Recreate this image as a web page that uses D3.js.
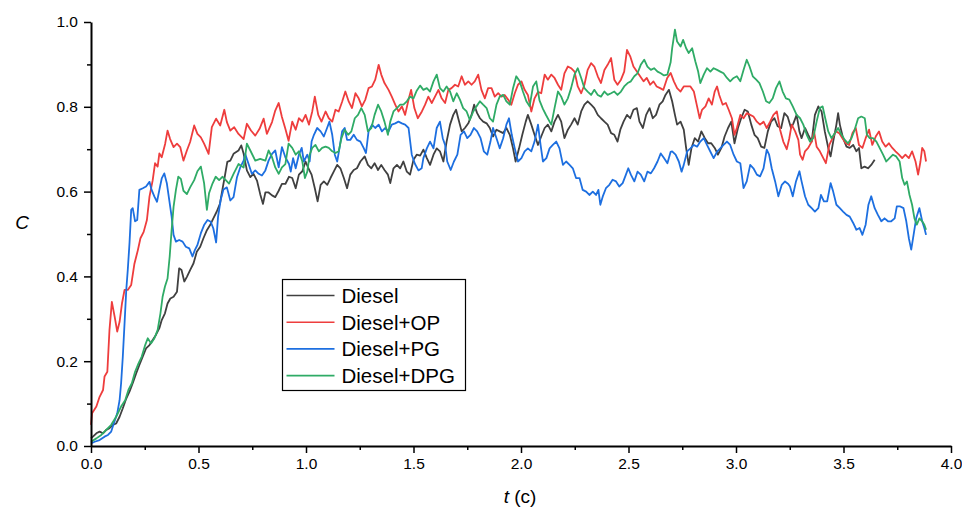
<!DOCTYPE html>
<html>
<head>
<meta charset="utf-8">
<script src="https://cdn.jsdelivr.net/npm/d3@7/dist/d3.min.js"></script>
<style>
  html, body { margin: 0; padding: 0; background: #fff; }
  svg { display: block; }
  .tick text { font-family: "Liberation Sans", Arial, sans-serif; }
</style>
</head>
<body>
<svg id="chart" width="962" height="511"></svg>
<script>
// Tick values and labels
const xTicks = [0, 0.5, 1.0, 1.5, 2.0, 2.5, 3.0, 3.5, 4.0];
const xMinorTicks = [0.25, 0.75, 1.25, 1.75, 2.25, 2.75, 3.25, 3.75];
const yTicks = [0, 0.2, 0.4, 0.6, 0.8, 1.0];
const yMinorTicks = [0.1, 0.3, 0.5, 0.7, 0.9];

const seriesNames = ["Diesel", "Diesel+OP", "Diesel+PG", "Diesel+DPG"];
const seriesColors = ["#404040", "#ee3d3d", "#1d6fe0", "#2fab66"];

// Each series: [t, C] pairs
const diesel = [[0,0.018],[0.009,0.022],[0.025,0.03],[0.04,0.034],[0.056,0.03],[0.071,0.038],[0.086,0.042],[0.102,0.05],[0.117,0.053],[0.133,0.069],[0.148,0.089],[0.164,0.112],[0.179,0.128],[0.194,0.148],[0.21,0.171],[0.225,0.191],[0.241,0.211],[0.256,0.23],[0.272,0.238],[0.287,0.25],[0.302,0.262],[0.318,0.278],[0.329,0.297],[0.344,0.313],[0.356,0.336],[0.369,0.348],[0.384,0.352],[0.4,0.364],[0.41,0.419],[0.421,0.415],[0.434,0.388],[0.446,0.399],[0.461,0.415],[0.477,0.431],[0.492,0.458],[0.508,0.47],[0.523,0.49],[0.539,0.509],[0.554,0.521],[0.569,0.537],[0.585,0.553],[0.6,0.572],[0.611,0.604],[0.622,0.635],[0.634,0.67],[0.648,0.673],[0.663,0.689],[0.686,0.697],[0.699,0.709],[0.71,0.689],[0.725,0.65],[0.741,0.634],[0.756,0.642],[0.772,0.626],[0.787,0.594],[0.8,0.571],[0.811,0.598],[0.826,0.598],[0.842,0.591],[0.857,0.587],[0.873,0.602],[0.888,0.618],[0.904,0.618],[0.921,0.635],[0.936,0.632],[0.952,0.608],[0.967,0.64],[0.983,0.648],[0.998,0.671],[1.011,0.655],[1.026,0.64],[1.041,0.608],[1.054,0.577],[1.068,0.616],[1.083,0.624],[1.099,0.616],[1.114,0.632],[1.129,0.647],[1.145,0.663],[1.16,0.655],[1.176,0.632],[1.191,0.608],[1.206,0.64],[1.222,0.651],[1.237,0.655],[1.253,0.671],[1.273,0.683],[1.288,0.663],[1.304,0.655],[1.319,0.667],[1.335,0.651],[1.35,0.663],[1.365,0.651],[1.381,0.64],[1.392,0.62],[1.407,0.655],[1.423,0.663],[1.438,0.655],[1.453,0.671],[1.469,0.647],[1.484,0.64],[1.5,0.675],[1.515,0.687],[1.531,0.685],[1.546,0.699],[1.562,0.679],[1.577,0.663],[1.593,0.687],[1.608,0.702],[1.623,0.695],[1.639,0.671],[1.654,0.718],[1.67,0.758],[1.685,0.781],[1.698,0.793],[1.708,0.773],[1.724,0.742],[1.739,0.75],[1.755,0.761],[1.77,0.781],[1.782,0.805],[1.796,0.785],[1.809,0.773],[1.824,0.765],[1.84,0.761],[1.855,0.75],[1.87,0.73],[1.886,0.746],[1.901,0.742],[1.917,0.738],[1.932,0.75],[1.948,0.734],[1.963,0.702],[1.975,0.671],[1.991,0.702],[2.006,0.734],[2.022,0.765],[2.032,0.781],[2.048,0.758],[2.063,0.734],[2.079,0.71],[2.094,0.73],[2.11,0.75],[2.125,0.758],[2.141,0.742],[2.156,0.765],[2.172,0.781],[2.187,0.765],[2.202,0.726],[2.218,0.746],[2.233,0.758],[2.249,0.773],[2.264,0.758],[2.28,0.789],[2.295,0.805],[2.31,0.813],[2.326,0.805],[2.341,0.797],[2.357,0.781],[2.372,0.773],[2.388,0.765],[2.403,0.758],[2.419,0.738],[2.434,0.734],[2.449,0.718],[2.462,0.746],[2.477,0.765],[2.493,0.781],[2.508,0.773],[2.523,0.793],[2.539,0.797],[2.551,0.765],[2.567,0.75],[2.582,0.781],[2.598,0.797],[2.613,0.773],[2.628,0.781],[2.644,0.805],[2.659,0.813],[2.672,0.828],[2.688,0.84],[2.703,0.813],[2.716,0.781],[2.726,0.758],[2.742,0.765],[2.757,0.746],[2.768,0.703],[2.78,0.663],[2.793,0.703],[2.808,0.726],[2.824,0.718],[2.839,0.742],[2.855,0.726],[2.87,0.714],[2.885,0.714],[2.901,0.703],[2.916,0.687],[2.932,0.703],[2.947,0.73],[2.963,0.75],[2.978,0.765],[2.993,0.714],[3.009,0.75],[3.024,0.773],[3.04,0.793],[3.055,0.789],[3.071,0.758],[3.086,0.734],[3.101,0.726],[3.117,0.706],[3.132,0.703],[3.148,0.742],[3.163,0.765],[3.179,0.773],[3.194,0.754],[3.21,0.75],[3.225,0.785],[3.24,0.777],[3.256,0.75],[3.267,0.761],[3.282,0.781],[3.295,0.742],[3.305,0.726],[3.321,0.75],[3.336,0.734],[3.352,0.718],[3.367,0.781],[3.383,0.801],[3.398,0.789],[3.413,0.742],[3.429,0.703],[3.44,0.683],[3.452,0.718],[3.467,0.758],[3.475,0.785],[3.483,0.758],[3.498,0.726],[3.514,0.706],[3.529,0.703],[3.545,0.71],[3.56,0.695],[3.572,0.703],[3.583,0.655],[3.598,0.659],[3.614,0.655],[3.629,0.663],[3.645,0.675]];

const dieselOP = [[0,0.05],[0.005,0.077],[0.025,0.093],[0.04,0.116],[0.056,0.132],[0.063,0.164],[0.076,0.175],[0.086,0.274],[0.097,0.34],[0.11,0.305],[0.122,0.27],[0.133,0.293],[0.144,0.336],[0.156,0.368],[0.171,0.368],[0.187,0.38],[0.202,0.43],[0.218,0.462],[0.23,0.49],[0.245,0.505],[0.26,0.533],[0.272,0.588],[0.287,0.627],[0.298,0.667],[0.31,0.659],[0.318,0.69],[0.329,0.681],[0.345,0.713],[0.356,0.744],[0.368,0.724],[0.384,0.705],[0.4,0.713],[0.415,0.705],[0.43,0.673],[0.446,0.697],[0.461,0.717],[0.48,0.756],[0.495,0.736],[0.511,0.728],[0.526,0.713],[0.547,0.689],[0.562,0.752],[0.582,0.772],[0.601,0.756],[0.62,0.793],[0.632,0.764],[0.648,0.744],[0.666,0.752],[0.686,0.736],[0.71,0.724],[0.725,0.76],[0.744,0.744],[0.764,0.732],[0.784,0.748],[0.803,0.772],[0.818,0.736],[0.842,0.764],[0.857,0.791],[0.873,0.809],[0.888,0.776],[0.904,0.748],[0.919,0.72],[0.936,0.765],[0.952,0.746],[0.967,0.773],[0.983,0.765],[0.998,0.781],[1.014,0.758],[1.029,0.789],[1.041,0.824],[1.057,0.781],[1.072,0.765],[1.091,0.789],[1.106,0.773],[1.122,0.765],[1.137,0.793],[1.152,0.789],[1.168,0.812],[1.183,0.836],[1.199,0.812],[1.214,0.797],[1.23,0.832],[1.245,0.82],[1.26,0.801],[1.276,0.817],[1.291,0.844],[1.307,0.848],[1.322,0.864],[1.338,0.899],[1.35,0.876],[1.365,0.856],[1.384,0.84],[1.399,0.824],[1.415,0.805],[1.43,0.789],[1.446,0.801],[1.461,0.781],[1.477,0.817],[1.489,0.84],[1.504,0.797],[1.52,0.773],[1.539,0.789],[1.554,0.805],[1.569,0.824],[1.585,0.809],[1.6,0.824],[1.616,0.84],[1.631,0.82],[1.647,0.809],[1.662,0.84],[1.677,0.844],[1.693,0.852],[1.708,0.848],[1.724,0.872],[1.739,0.852],[1.755,0.86],[1.77,0.852],[1.785,0.86],[1.801,0.876],[1.816,0.84],[1.832,0.82],[1.847,0.844],[1.863,0.844],[1.878,0.824],[1.894,0.832],[1.909,0.824],[1.924,0.828],[1.94,0.817],[1.955,0.805],[1.971,0.832],[1.986,0.852],[2.002,0.86],[2.017,0.84],[2.032,0.828],[2.048,0.789],[2.063,0.82],[2.079,0.835],[2.094,0.832],[2.11,0.876],[2.125,0.864],[2.141,0.876],[2.156,0.868],[2.172,0.852],[2.187,0.84],[2.202,0.879],[2.218,0.895],[2.233,0.891],[2.249,0.883],[2.264,0.848],[2.28,0.832],[2.295,0.852],[2.31,0.887],[2.326,0.903],[2.341,0.895],[2.357,0.872],[2.372,0.856],[2.388,0.887],[2.403,0.899],[2.419,0.915],[2.434,0.864],[2.449,0.852],[2.465,0.864],[2.48,0.883],[2.493,0.934],[2.508,0.919],[2.523,0.895],[2.539,0.883],[2.554,0.872],[2.57,0.86],[2.585,0.868],[2.601,0.852],[2.616,0.86],[2.631,0.848],[2.647,0.844],[2.662,0.84],[2.68,0.868],[2.696,0.88],[2.711,0.86],[2.726,0.844],[2.742,0.836],[2.757,0.848],[2.773,0.848],[2.788,0.848],[2.804,0.836],[2.819,0.801],[2.831,0.773],[2.842,0.793],[2.858,0.801],[2.873,0.82],[2.888,0.805],[2.901,0.836],[2.912,0.848],[2.922,0.828],[2.938,0.805],[2.953,0.809],[2.966,0.793],[2.981,0.773],[2.993,0.734],[3.004,0.75],[3.02,0.781],[3.035,0.773],[3.05,0.785],[3.066,0.781],[3.081,0.777],[3.097,0.765],[3.112,0.758],[3.128,0.765],[3.143,0.75],[3.159,0.765],[3.174,0.781],[3.19,0.789],[3.205,0.746],[3.22,0.718],[3.236,0.7],[3.248,0.726],[3.259,0.758],[3.275,0.742],[3.29,0.722],[3.298,0.687],[3.31,0.675],[3.321,0.695],[3.336,0.703],[3.352,0.718],[3.363,0.742],[3.375,0.706],[3.39,0.695],[3.406,0.679],[3.418,0.667],[3.434,0.71],[3.449,0.726],[3.464,0.742],[3.48,0.738],[3.495,0.726],[3.511,0.714],[3.526,0.71],[3.542,0.738],[3.557,0.75],[3.572,0.71],[3.588,0.703],[3.603,0.726],[3.619,0.746],[3.634,0.71],[3.65,0.73],[3.665,0.742],[3.68,0.718],[3.696,0.706],[3.711,0.714],[3.727,0.703],[3.742,0.695],[3.758,0.687],[3.773,0.679],[3.788,0.687],[3.804,0.679],[3.819,0.695],[3.835,0.671],[3.847,0.64],[3.858,0.671],[3.866,0.703],[3.876,0.695],[3.884,0.671]];

const dieselPG = [[0,0.006],[0.017,0.01],[0.04,0.014],[0.063,0.022],[0.079,0.026],[0.094,0.034],[0.106,0.053],[0.122,0.077],[0.133,0.108],[0.14,0.148],[0.148,0.211],[0.156,0.289],[0.164,0.368],[0.171,0.415],[0.179,0.478],[0.187,0.557],[0.194,0.561],[0.205,0.53],[0.215,0.533],[0.225,0.604],[0.241,0.608],[0.256,0.612],[0.272,0.623],[0.282,0.604],[0.295,0.588],[0.307,0.576],[0.318,0.604],[0.329,0.631],[0.341,0.643],[0.353,0.619],[0.364,0.58],[0.375,0.541],[0.384,0.498],[0.395,0.482],[0.41,0.486],[0.426,0.482],[0.441,0.47],[0.457,0.466],[0.472,0.447],[0.483,0.462],[0.495,0.474],[0.511,0.502],[0.526,0.521],[0.542,0.533],[0.557,0.529],[0.569,0.513],[0.582,0.48],[0.591,0.541],[0.603,0.58],[0.616,0.605],[0.632,0.61],[0.648,0.579],[0.663,0.587],[0.679,0.634],[0.694,0.657],[0.71,0.673],[0.717,0.689],[0.733,0.665],[0.748,0.642],[0.764,0.65],[0.78,0.642],[0.795,0.638],[0.811,0.65],[0.826,0.673],[0.842,0.689],[0.857,0.697],[0.873,0.657],[0.888,0.705],[0.904,0.681],[0.921,0.665],[0.929,0.647],[0.94,0.679],[0.952,0.655],[0.967,0.687],[0.98,0.703],[0.99,0.671],[1.006,0.687],[1.017,0.671],[1.026,0.718],[1.037,0.734],[1.052,0.75],[1.068,0.742],[1.083,0.73],[1.098,0.75],[1.109,0.765],[1.122,0.734],[1.134,0.687],[1.145,0.671],[1.156,0.703],[1.168,0.742],[1.18,0.75],[1.191,0.722],[1.206,0.722],[1.222,0.734],[1.237,0.722],[1.253,0.718],[1.268,0.703],[1.279,0.691],[1.291,0.742],[1.307,0.758],[1.322,0.75],[1.338,0.758],[1.353,0.742],[1.368,0.75],[1.384,0.742],[1.399,0.758],[1.415,0.761],[1.43,0.765],[1.446,0.761],[1.461,0.758],[1.477,0.75],[1.492,0.687],[1.507,0.665],[1.523,0.65],[1.538,0.655],[1.546,0.679],[1.562,0.702],[1.577,0.718],[1.593,0.702],[1.608,0.75],[1.623,0.765],[1.636,0.726],[1.647,0.71],[1.657,0.671],[1.673,0.651],[1.688,0.671],[1.704,0.687],[1.719,0.734],[1.735,0.742],[1.75,0.726],[1.765,0.734],[1.781,0.75],[1.796,0.742],[1.812,0.726],[1.827,0.695],[1.843,0.687],[1.858,0.718],[1.87,0.75],[1.886,0.726],[1.901,0.702],[1.917,0.726],[1.932,0.758],[1.944,0.773],[1.957,0.734],[1.971,0.702],[1.986,0.671],[2.002,0.679],[2.017,0.695],[2.032,0.702],[2.048,0.695],[2.063,0.718],[2.079,0.758],[2.091,0.71],[2.102,0.671],[2.118,0.679],[2.133,0.702],[2.148,0.71],[2.164,0.718],[2.179,0.702],[2.195,0.663],[2.21,0.671],[2.226,0.663],[2.241,0.655],[2.256,0.632],[2.272,0.632],[2.287,0.604],[2.303,0.6],[2.318,0.592],[2.334,0.6],[2.349,0.592],[2.36,0.604],[2.369,0.569],[2.38,0.588],[2.395,0.608],[2.411,0.616],[2.426,0.628],[2.442,0.624],[2.457,0.612],[2.473,0.62],[2.488,0.64],[2.499,0.655],[2.511,0.64],[2.527,0.624],[2.542,0.647],[2.557,0.64],[2.573,0.624],[2.588,0.647],[2.604,0.643],[2.619,0.655],[2.635,0.671],[2.65,0.69],[2.665,0.679],[2.681,0.667],[2.696,0.694],[2.703,0.695],[2.719,0.687],[2.734,0.671],[2.747,0.647],[2.757,0.663],[2.773,0.695],[2.788,0.702],[2.804,0.71],[2.819,0.706],[2.834,0.718],[2.85,0.726],[2.865,0.71],[2.881,0.694],[2.896,0.679],[2.912,0.694],[2.927,0.702],[2.942,0.71],[2.958,0.718],[2.973,0.71],[2.989,0.687],[3.004,0.671],[3.02,0.667],[3.035,0.608],[3.05,0.624],[3.066,0.663],[3.081,0.655],[3.097,0.64],[3.112,0.636],[3.128,0.655],[3.143,0.699],[3.154,0.687],[3.166,0.655],[3.182,0.624],[3.197,0.589],[3.213,0.616],[3.228,0.624],[3.243,0.618],[3.251,0.612],[3.264,0.589],[3.279,0.624],[3.295,0.648],[3.305,0.624],[3.321,0.589],[3.336,0.569],[3.352,0.561],[3.367,0.553],[3.383,0.561],[3.395,0.592],[3.409,0.577],[3.424,0.577],[3.44,0.62],[3.452,0.6],[3.467,0.569],[3.483,0.561],[3.498,0.553],[3.514,0.545],[3.529,0.541],[3.545,0.526],[3.56,0.51],[3.575,0.514],[3.588,0.498],[3.603,0.522],[3.616,0.569],[3.629,0.589],[3.645,0.561],[3.66,0.545],[3.676,0.53],[3.691,0.537],[3.707,0.53],[3.722,0.53],[3.738,0.537],[3.748,0.565],[3.764,0.565],[3.779,0.561],[3.792,0.53],[3.804,0.49],[3.815,0.463],[3.826,0.498],[3.838,0.537],[3.853,0.561],[3.866,0.53],[3.876,0.514],[3.884,0.498]];

const dieselDPG = [[0,0.01],[0.025,0.018],[0.048,0.026],[0.071,0.038],[0.094,0.05],[0.117,0.069],[0.14,0.093],[0.159,0.108],[0.174,0.132],[0.19,0.148],[0.205,0.175],[0.221,0.195],[0.236,0.211],[0.252,0.238],[0.264,0.254],[0.279,0.242],[0.295,0.254],[0.31,0.274],[0.323,0.313],[0.333,0.352],[0.344,0.376],[0.356,0.395],[0.366,0.447],[0.375,0.509],[0.384,0.564],[0.395,0.604],[0.406,0.635],[0.418,0.63],[0.43,0.602],[0.446,0.594],[0.461,0.61],[0.48,0.627],[0.495,0.648],[0.511,0.659],[0.526,0.62],[0.539,0.557],[0.549,0.596],[0.565,0.619],[0.58,0.635],[0.596,0.627],[0.611,0.635],[0.627,0.627],[0.642,0.619],[0.663,0.642],[0.686,0.665],[0.71,0.657],[0.725,0.713],[0.741,0.697],[0.764,0.673],[0.787,0.677],[0.811,0.673],[0.826,0.697],[0.842,0.681],[0.857,0.657],[0.873,0.642],[0.888,0.657],[0.904,0.665],[0.919,0.713],[0.936,0.703],[0.952,0.687],[0.967,0.695],[0.983,0.671],[0.995,0.632],[1.006,0.647],[1.017,0.687],[1.029,0.703],[1.044,0.71],[1.06,0.695],[1.075,0.703],[1.091,0.706],[1.106,0.703],[1.122,0.695],[1.137,0.691],[1.152,0.695],[1.165,0.726],[1.18,0.746],[1.196,0.734],[1.211,0.742],[1.227,0.773],[1.242,0.781],[1.257,0.797],[1.273,0.781],[1.288,0.742],[1.304,0.75],[1.319,0.781],[1.335,0.805],[1.35,0.789],[1.365,0.765],[1.381,0.734],[1.392,0.765],[1.407,0.789],[1.423,0.797],[1.438,0.805],[1.453,0.805],[1.469,0.813],[1.484,0.824],[1.5,0.82],[1.515,0.838],[1.531,0.85],[1.546,0.84],[1.562,0.844],[1.577,0.836],[1.593,0.86],[1.608,0.876],[1.623,0.844],[1.639,0.836],[1.654,0.848],[1.67,0.836],[1.685,0.813],[1.701,0.832],[1.716,0.817],[1.731,0.797],[1.747,0.789],[1.762,0.769],[1.778,0.789],[1.793,0.801],[1.809,0.813],[1.824,0.805],[1.84,0.797],[1.855,0.773],[1.87,0.765],[1.886,0.805],[1.901,0.824],[1.917,0.828],[1.932,0.813],[1.948,0.805],[1.963,0.844],[1.978,0.872],[1.994,0.86],[2.009,0.836],[2.025,0.813],[2.04,0.801],[2.056,0.848],[2.071,0.86],[2.086,0.815],[2.102,0.795],[2.117,0.78],[2.133,0.765],[2.141,0.758],[2.156,0.797],[2.172,0.836],[2.187,0.824],[2.202,0.805],[2.218,0.82],[2.233,0.844],[2.249,0.876],[2.264,0.891],[2.28,0.868],[2.295,0.844],[2.31,0.836],[2.326,0.828],[2.341,0.84],[2.357,0.828],[2.372,0.824],[2.388,0.836],[2.403,0.828],[2.419,0.832],[2.434,0.836],[2.449,0.828],[2.465,0.836],[2.48,0.848],[2.496,0.856],[2.511,0.86],[2.527,0.872],[2.542,0.879],[2.557,0.899],[2.573,0.911],[2.588,0.895],[2.604,0.887],[2.619,0.891],[2.635,0.883],[2.65,0.879],[2.665,0.874],[2.681,0.876],[2.696,0.905],[2.703,0.938],[2.716,0.982],[2.726,0.954],[2.742,0.942],[2.754,0.958],[2.768,0.938],[2.78,0.927],[2.796,0.938],[2.811,0.907],[2.824,0.883],[2.834,0.856],[2.85,0.876],[2.865,0.891],[2.881,0.883],[2.896,0.891],[2.912,0.887],[2.927,0.883],[2.942,0.879],[2.958,0.868],[2.973,0.86],[2.989,0.868],[3.004,0.872],[3.02,0.86],[3.035,0.887],[3.05,0.911],[3.063,0.895],[3.078,0.872],[3.094,0.864],[3.109,0.856],[3.125,0.836],[3.14,0.813],[3.155,0.809],[3.171,0.82],[3.186,0.844],[3.202,0.86],[3.217,0.836],[3.232,0.82],[3.248,0.817],[3.264,0.801],[3.282,0.781],[3.298,0.773],[3.313,0.758],[3.329,0.734],[3.344,0.718],[3.359,0.726],[3.375,0.765],[3.39,0.797],[3.403,0.801],[3.415,0.773],[3.429,0.742],[3.444,0.726],[3.46,0.738],[3.475,0.75],[3.491,0.734],[3.506,0.722],[3.521,0.714],[3.537,0.726],[3.552,0.746],[3.568,0.773],[3.583,0.777],[3.599,0.773],[3.609,0.734],[3.622,0.726],[3.637,0.726],[3.653,0.718],[3.668,0.703],[3.684,0.687],[3.699,0.671],[3.714,0.679],[3.73,0.687],[3.745,0.683],[3.761,0.671],[3.773,0.632],[3.784,0.616],[3.795,0.624],[3.807,0.592],[3.819,0.569],[3.83,0.537],[3.841,0.522],[3.853,0.537],[3.866,0.53],[3.876,0.522],[3.884,0.51]];

const seriesData = [diesel, dieselOP, dieselPG, dieselDPG];

const svg = d3.select("#chart");
const x = d3.scaleLinear().domain([0, 4]).range([91, 951]);
const y = d3.scaleLinear().domain([0, 1]).range([446, 22]);
const fmt = d3.format(".1f");

// Data lines (drawn before the axes so the axis lines sit on top)
const line = d3.line().x(d => x(d[0])).y(d => y(d[1]));
const lines = svg.append("g").attr("class", "series");
seriesData.forEach((data, i) => {
  lines.append("path")
    .datum(data)
    .attr("fill", "none")
    .attr("stroke", seriesColors[i])
    .attr("stroke-width", 1.8)
    .attr("stroke-linejoin", "round")
    .attr("d", line);
});

// Minor ticks
svg.append("g")
  .attr("transform", "translate(0,446)")
  .call(d3.axisBottom(x).tickValues(xMinorTicks).tickSize(4).tickFormat(""))
  .call(g => g.select(".domain").remove())
  .call(g => g.selectAll("line").attr("stroke-width", 1.5));
svg.append("g")
  .attr("transform", "translate(91,0)")
  .call(d3.axisLeft(y).tickValues(yMinorTicks).tickSize(4).tickFormat(""))
  .call(g => g.select(".domain").remove())
  .call(g => g.selectAll("line").attr("stroke-width", 1.5));

// Major axes
const xAxis = svg.append("g")
  .attr("transform", "translate(0,446)")
  .call(d3.axisBottom(x).tickValues(xTicks).tickFormat(fmt).tickSize(7).tickSizeOuter(0).tickPadding(5));
const yAxis = svg.append("g")
  .attr("transform", "translate(91,0)")
  .call(d3.axisLeft(y).tickValues(yTicks).tickFormat(fmt).tickSize(7).tickSizeOuter(0).tickPadding(6));
[xAxis, yAxis].forEach(g => {
  g.select(".domain").attr("stroke-width", 2);
  g.selectAll(".tick line").attr("stroke-width", 1.5);
  g.selectAll(".tick text").attr("font-size", 15.5).attr("fill", "#000");
});

// Axis titles
svg.append("text")
  .attr("x", 22).attr("y", 229)
  .attr("text-anchor", "middle")
  .attr("font-family", "Liberation Sans, Arial, sans-serif")
  .attr("font-size", 19)
  .attr("font-style", "italic")
  .text("C");

const xTitle = svg.append("text")
  .attr("x", 520).attr("y", 503)
  .attr("text-anchor", "middle")
  .attr("font-family", "Liberation Sans, Arial, sans-serif")
  .attr("font-size", 19);
xTitle.append("tspan").attr("font-style", "italic").text("t");
xTitle.append("tspan").text(" (c)");

// Legend
const legend = svg.append("g").attr("transform", "translate(282.5,279.5)");
legend.append("rect")
  .attr("width", 183).attr("height", 111)
  .attr("fill", "#fff").attr("stroke", "#000").attr("stroke-width", 1.2);
seriesNames.forEach((name, i) => {
  const cy = 16 + i * 26.7;
  legend.append("line")
    .attr("x1", 4).attr("x2", 52).attr("y1", cy).attr("y2", cy)
    .attr("stroke", seriesColors[i]).attr("stroke-width", 1.6);
  legend.append("text")
    .attr("x", 59).attr("y", cy)
    .attr("dy", "0.36em")
    .attr("font-family", "Liberation Sans, Arial, sans-serif")
    .attr("font-size", 20.5)
    .text(name);
});
</script>
</body>
</html>
